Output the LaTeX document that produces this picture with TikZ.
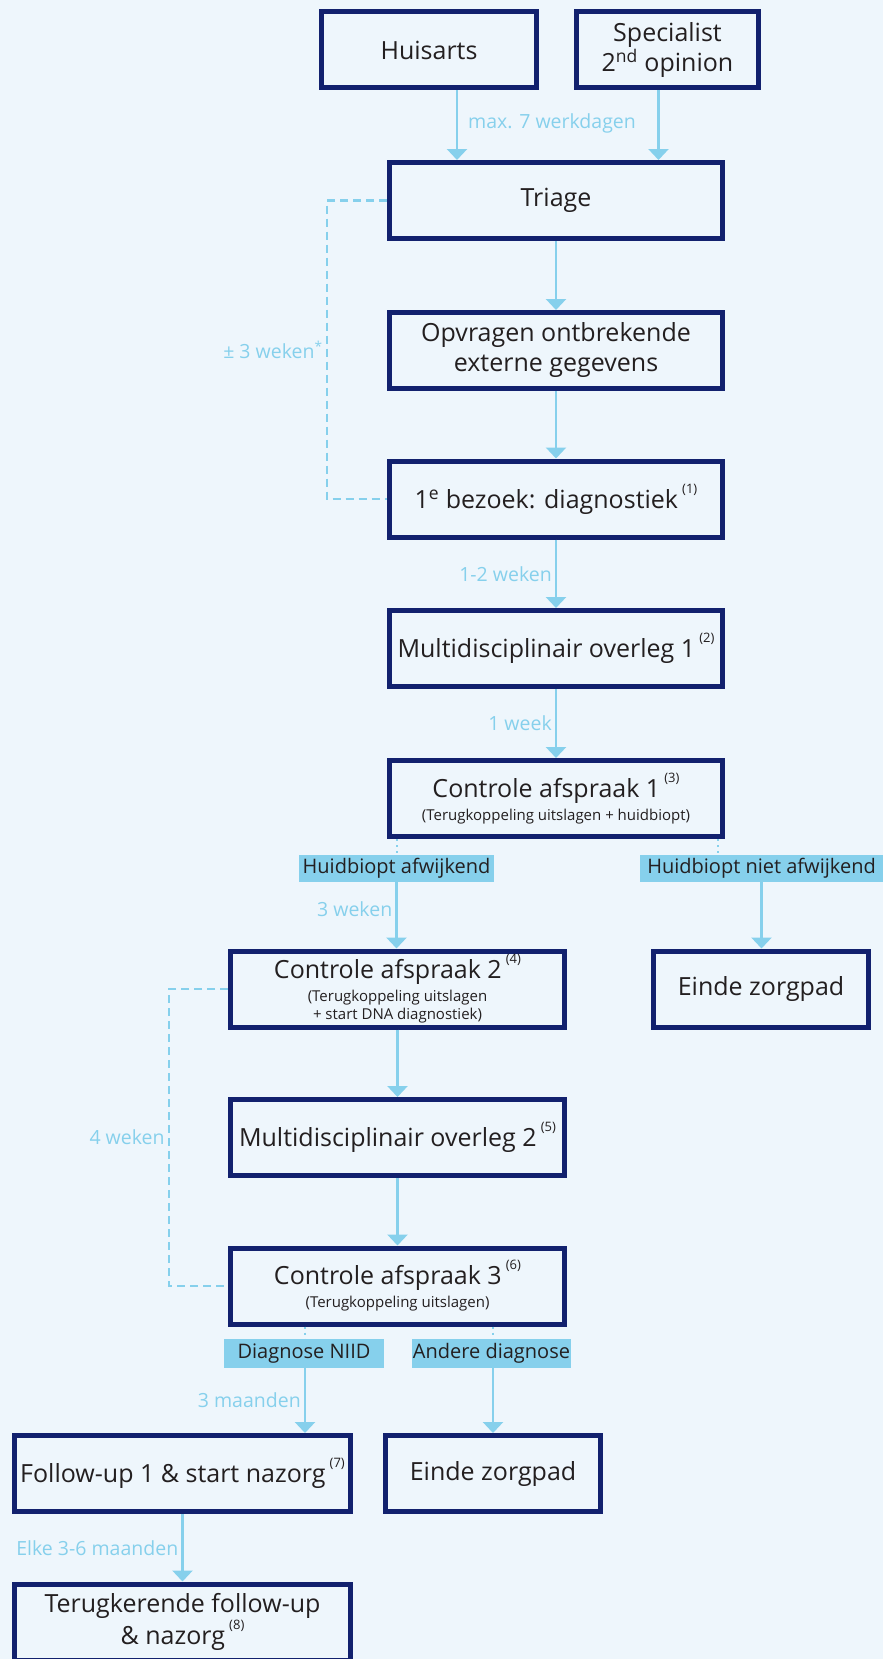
\documentclass[tikz,border=0pt]{standalone}
\usepackage{fontspec}
\setmainfont{Open Sans}
\usetikzlibrary{arrows.meta}
\definecolor{navy}{HTML}{12216E}
\definecolor{sky}{HTML}{86D0EC}
\definecolor{bg}{HTML}{EEF6FC}
\definecolor{ink}{HTML}{231F20}
\def\nr#1{\,\raisebox{0.6em}{\fontsize{13}{13}\selectfont(#1)}}
\def\klein{\fontsize{15}{18}\selectfont}

\tikzset{
  stap/.style={draw=navy, line width=5pt, fill=bg, text=ink, align=center,
    minimum width=333pt, minimum height=76pt, inner sep=0pt,
    font=\fontsize{25}{30}\selectfont},
  tijd/.style={text=sky, inner sep=3pt, font=\fontsize{19.5}{23}\selectfont},
  keuze/.style={fill=sky, text=ink, minimum height=27pt, inner sep=0pt,
    font=\fontsize{20}{24}\selectfont},
  pijl/.style={draw=sky, line width=2.5pt, -{Triangle[width=20pt,length=11pt]}},
  lus/.style={draw=sky, line width=2.8pt, dash pattern=on 8pt off 5pt},
  stip/.style={draw=sky, line width=2pt, dash pattern=on 2pt off 4pt}
}

\begin{document}
\begin{tikzpicture}[x=1pt,y=-1pt]
\fill[bg] (0,0) rectangle (883,1659);
\clip (0,0) rectangle (883,1659);

\node[stap, minimum width=215pt] (huis) at (429,50) {Huisarts};
\node[stap, minimum width=182pt] (spec) at (667.5,50) {Specialist\\2\textsuperscript{nd} opinion};
\node[stap] (tri) at (556,200.5) {Triage};
\node[stap] (opv) at (556,350.5) {Opvragen ontbrekende\\externe gegevens};
\node[stap] (bez) at (556,499) {1\textsuperscript{e} bezoek: diagnostiek\nr{1}};
\node[stap] (mdo1) at (556,648.5) {Multidisciplinair overleg 1\nr{2}};
\node[stap] (ca1) at (556,798.5) {Controle afspraak 1\nr{3}\\[-7pt]{\klein (Terugkoppeling uitslagen + huidbiopt)}};
\node[keuze, minimum width=195pt] (afw) at (396.5,868.5) {Huidbiopt afwijkend};
\node[keuze, minimum width=243pt] (niet) at (761.5,868.5) {Huidbiopt niet afwijkend};
\node[stap, minimum width=334pt] (ca2) at (397.5,989) {Controle afspraak 2\nr{4}\\[-7pt]{\klein (Terugkoppeling uitslagen}\\[-12pt]{\klein + start DNA diagnostiek)}};
\node[stap, minimum width=215pt] (eind1) at (761,989) {Einde zorgpad};
\node[stap, minimum width=334pt] (mdo2) at (397.5,1137.5) {Multidisciplinair overleg 2\nr{5}};
\node[stap, minimum width=334pt] (ca3) at (397.5,1286) {Controle afspraak 3\nr{6}\\[-7pt]{\klein (Terugkoppeling uitslagen)}};
\node[keuze, minimum width=160pt, minimum height=29pt] (niid) at (304,1353.5) {Diagnose NIID};
\node[keuze, minimum width=159pt, minimum height=29pt] (andere) at (491.5,1353.5) {Andere diagnose};
\node[stap, minimum width=336pt] (fu1) at (182.5,1473.5) {Follow-up 1 \& start nazorg\nr{7}};
\node[stap, minimum width=215pt] (eind2) at (493,1473.5) {Einde zorgpad};
\node[stap, minimum width=336pt] (terug) at (182.5,1622) {Terugkerende follow-up\\\& nazorg\nr{8}};

\draw[pijl] ([xshift=28pt]huis.south) -- ([xshift=28pt]huis.south |- tri.north);
\draw[pijl] ([xshift=-9pt]spec.south) -- ([xshift=-9pt]spec.south |- tri.north);
\node[tijd, anchor=west] (t0) at (465,123) {max. 7 werkdagen};
\draw[pijl] (tri) -- (opv);
\draw[pijl] (opv) -- (bez);
\draw[pijl] (bez) -- node[tijd, left] (t1) {1-2 weken} (mdo1);
\draw[pijl] (mdo1) -- node[tijd, left] (t2) {1 week} (ca1);
\draw[stip] (afw.north |- ca1.south) -- (afw.north);
\draw[stip] ([xshift=-43.5pt]niet.north |- ca1.south) -- ([xshift=-43.5pt]niet.north);
\draw[pijl] (afw) -- node[tijd, left, pos=0.4] (t3) {3 weken} (afw.south |- ca2.north);
\draw[pijl] (niet) -- (niet.south |- eind1.north);
\draw[pijl] (ca2) -- (mdo2);
\draw[pijl] (mdo2) -- (ca3);
\draw[stip] ([xshift=1pt]niid.north |- ca3.south) -- ([xshift=1pt]niid.north);
\draw[stip] ([xshift=1.5pt]andere.north |- ca3.south) -- ([xshift=1.5pt]andere.north);
\draw[pijl] ([xshift=1pt]niid.south) -- node[tijd, left] (t4) {3 maanden} ([xshift=1pt]niid.south |- fu1.north);
\draw[pijl] ([xshift=1.5pt]andere.south) -- ([xshift=1.5pt]andere.south |- eind2.north);
\draw[pijl] (fu1) -- node[tijd, left] (t5) {Elke 3-6 maanden} (terug);

\draw[lus] (tri.west) -- ++(-60,0) |- node[tijd, left, pos=0.25] (w3) {± 3 weken\textsuperscript{*}} (bez.west);
\draw[lus] (ca2.west) -- ++(-59,0) |- node[tijd, left, pos=0.25] (w4) {4 weken} (ca3.west);
\end{tikzpicture}
\end{document}
